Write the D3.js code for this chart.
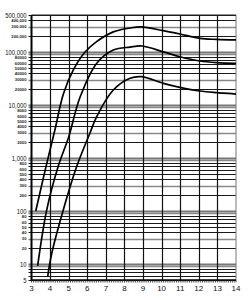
<!DOCTYPE html>
<html>
<head>
<meta charset="utf-8">
<script src="https://cdn.jsdelivr.net/npm/d3@7"></script>
<style>
  body { margin: 0; background: #fff; }
  svg { display: block; font-family: "Liberation Sans", Arial, sans-serif; }
</style>
</head>
<body>
<div id="chart"></div>
<script>
// log-scale growth curves, three series

// data
const xTicks = [3, 4, 5, 6, 7, 8, 9, 10, 11, 12, 13, 14];
const gridVals = [5, 6, 7, 8, 9, 10, 20, 30, 40, 50, 60, 70, 80, 90,
  100, 200, 300, 400, 500, 600, 700, 800, 900,
  1000, 2000, 3000, 4000, 5000, 6000, 7000, 8000, 9000,
  10000, 20000, 30000, 40000, 50000, 60000, 70000, 80000, 90000,
  100000, 200000, 300000, 400000, 500000];
const majorVals   = [5, 10, 100, 1000, 10000, 100000, 500000];
const majorLabels = ["5", "10", "100", "1,000", "10,000", "100,000", "500,000"];
const minorVals   = [20, 30, 40, 50, 60, 80, 200, 300, 400, 500, 600, 800,
  2000, 3000, 4000, 5000, 6000, 8000, 20000, 30000, 40000, 50000, 60000, 80000,
  200000, 300000, 400000];
const minorLabels = ["20", "30", "40", "50", "60", "80", "200", "300", "400", "500", "600", "800",
  "2000", "3000", "4000", "5000", "6000", "8000", "20000", "30000", "40000", "50000", "60000", "80000",
  "200,000", "300,000", "400,000"];

const upperX = [3.23, 3.78, 4.26, 4.71, 5.25, 5.88, 6.5, 7.4, 8.3, 8.9, 10.09, 10.98, 12.06, 12.96, 14];
const upperY = [100, 690, 3400, 16000, 46000, 100000, 157000, 240000, 284000, 298000, 253000, 219000, 181000, 173000, 169000];
const middleX = [3.33, 3.82, 4.45, 5.0, 5.61, 6.5, 7.4, 8.3, 8.95, 10.09, 10.98, 12.06, 12.96, 14];
const middleY = [9.2, 105, 720, 2500, 14000, 61000, 109000, 124000, 130000, 101000, 81600, 67700, 63000, 61000];
const lowerX = [3.87, 4.09, 4.71, 5.43, 6.15, 6.5, 7.4, 8.3, 8.9, 10.09, 10.98, 12.06, 12.96, 14];
const lowerY = [5.8, 16, 105, 690, 3000, 6000, 19200, 32000, 34300, 25700, 21600, 18400, 17100, 16100];

// sizing
const outerW = 250, outerH = 300;
const plotL = 31.5, plotR = 236, plotT = 15, plotB = 280;

const svg = d3.select("#chart").append("svg")
  .attr("width", outerW)
  .attr("height", outerH);
svg.append("rect").attr("width", outerW).attr("height", outerH).attr("fill", "#fff");

const x = d3.scaleLinear().domain([3, 14]).range([plotL, plotR]);
const y = d3.scaleLog().domain([5, 500000]).range([plotB, plotT]);

function mantissa(d) {
  return Math.round(d / Math.pow(10, Math.floor(Math.log10(d) + 1e-9)));
}

// horizontal grid
svg.append("g").selectAll("line").data(gridVals).join("line")
  .attr("x1", plotL - 3).attr("x2", plotR)
  .attr("y1", d => Math.round(y(d)) + 0.5).attr("y2", d => Math.round(y(d)) + 0.5)
  .attr("stroke", d => {
    const m = mantissa(d);
    if (m === 1) return "#777";
    if (m === 3 || m === 9) return "#888";
    return "#1a1a1a";
  })
  .attr("stroke-width", d => {
    const m = mantissa(d);
    if (m === 1) return 2;
    if (m === 3 || m === 9) return 1.5;
    return 1;
  });

// vertical grid
svg.append("g").selectAll("line").data(xTicks.slice(1, -1)).join("line")
  .attr("x1", d => Math.round(x(d)) + 0.5).attr("x2", d => Math.round(x(d)) + 0.5)
  .attr("y1", plotT).attr("y2", plotB)
  .attr("stroke", "#111").attr("stroke-width", 1.2);

// frame
svg.append("line").attr("x1", x(14)).attr("x2", x(14)).attr("y1", plotT).attr("y2", plotB)
  .attr("stroke", "#777").attr("stroke-width", 1);
svg.append("line").attr("x1", plotL).attr("x2", plotR).attr("y1", plotT).attr("y2", plotT)
  .attr("stroke", "#222").attr("stroke-width", 1.2);
svg.append("line").attr("x1", plotL).attr("x2", plotL).attr("y1", plotT).attr("y2", plotB + 1)
  .attr("stroke", "#000").attr("stroke-width", 2);
svg.append("line").attr("x1", plotL).attr("x2", plotR).attr("y1", plotB).attr("y2", plotB)
  .attr("stroke", "#000").attr("stroke-width", 1.5);

// minor ticks along x
svg.append("g").selectAll("line").data(x.ticks(110)).join("line")
  .attr("x1", d => x(d)).attr("x2", d => x(d))
  .attr("y1", plotB).attr("y2", plotB + 2.5)
  .attr("stroke", "#222").attr("stroke-width", 0.8);

// x labels
svg.append("g").selectAll("text").data(xTicks).join("text")
  .attr("x", d => x(d)).attr("y", 290.5)
  .attr("text-anchor", "middle")
  .attr("font-size", 8).attr("fill", "#111")
  .text(d => d);

// y labels (narrow, like the printed scale)
svg.append("g").selectAll("text").data(majorVals).join("text")
  .attr("transform", d => `translate(26.5,${y(d) + 2.5}) scale(0.82,1)`)
  .attr("text-anchor", "end")
  .attr("font-size", 7.2).attr("fill", "#111")
  .text((d, i) => majorLabels[i]);
svg.append("g").selectAll("text").data(minorVals).join("text")
  .attr("transform", d => `translate(26.5,${y(d) + 1.5})`)
  .attr("text-anchor", "end")
  .attr("font-size", 4.2).attr("font-weight", "bold").attr("fill", "#222")
  .text((d, i) => minorLabels[i]);

// curves
const line = d3.line()
  .x(d => x(d[0])).y(d => y(d[1]))
  .curve(d3.curveCatmullRom.alpha(0.5));

const curves = [
  d3.zip(upperX, upperY),
  d3.zip(middleX, middleY),
  d3.zip(lowerX, lowerY)
];
svg.append("g").selectAll("path").data(curves).join("path")
  .attr("fill", "none")
  .attr("stroke", "#000")
  .attr("stroke-width", 1.7)
  .attr("d", line);
</script>
</body>
</html>
